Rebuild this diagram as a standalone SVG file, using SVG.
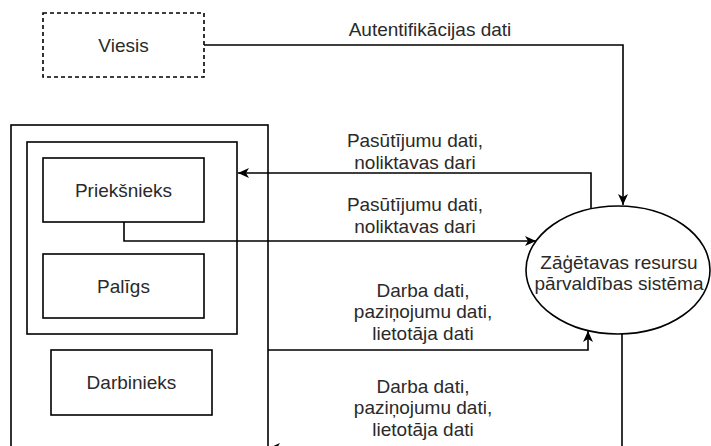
<svg xmlns="http://www.w3.org/2000/svg" width="711" height="446" viewBox="0 0 711 446">
  <defs>
    <marker id="arr" markerWidth="12" markerHeight="10" refX="11" refY="5" orient="auto" markerUnits="userSpaceOnUse">
      <path d="M0,0 L11,5 L0,10 L3,5 z" fill="#000"/>
    </marker>
    <style>
      .box { fill: #fff; stroke: #000; stroke-width: 1.6; }
      .dash { fill: #fff; stroke: #000; stroke-width: 1.6; stroke-dasharray: 4 3; }
      .edge { fill: none; stroke: #000; stroke-width: 1.6; marker-end: url(#arr); }
      text { font-family: "Liberation Sans", Arial, sans-serif; font-size: 19px; fill: #2a2a2a; text-anchor: middle; }
    </style>
  </defs>
  <rect width="711" height="446" fill="#fff"/>

  <g id="outer">
    <rect class="box" x="11" y="125" width="257" height="340"/>
  </g>
  <g id="inner">
    <rect class="box" x="27" y="142" width="210" height="192"/>
  </g>
  <g id="viesis">
    <rect class="dash" x="43" y="13" width="161" height="64"/>
    <text x="123.5" y="52">Viesis</text>
  </g>
  <g id="prieksnieks">
    <rect class="box" x="43" y="158" width="161" height="64"/>
    <text x="123.5" y="197">Priekšnieks</text>
  </g>
  <g id="paligs">
    <rect class="box" x="43" y="254" width="161" height="64"/>
    <text x="123.5" y="293">Palīgs</text>
  </g>
  <g id="darbinieks">
    <rect class="box" x="51" y="350" width="161" height="65"/>
    <text x="131.5" y="389">Darbinieks</text>
  </g>
  <g id="sistema">
    <ellipse class="box" cx="618" cy="270" rx="92" ry="64"/>
    <text x="619" y="268.5">Zāģētavas resursu</text>
    <text x="619" y="289.5">pārvaldības sistēma</text>
  </g>

  <g id="connectors">
    <path class="edge" d="M204,45 L623,45 L623,205"/>
    <path class="edge" d="M591,209 L591,173 L238,173"/>
    <path class="edge" d="M124,222 L124,241 L536,241"/>
    <path class="edge" d="M268,350 L588,350 L588,331"/>
    <path class="edge" d="M622,334 L622,448 L269,448"/>
  </g>

  <g id="labels">
    <text x="430" y="36">Autentifikācijas dati</text>
    <text x="415" y="146.5">Pasūtījumu dati,</text>
    <text x="415" y="168.5">noliktavas dari</text>
    <text x="415" y="210.5">Pasūtījumu dati,</text>
    <text x="415" y="232.5">noliktavas dari</text>
    <text x="423" y="296.5">Darba dati,</text>
    <text x="423" y="318">paziņojumu dati,</text>
    <text x="423" y="339.5">lietotāja dati</text>
    <text x="423" y="392.5">Darba dati,</text>
    <text x="423" y="414">paziņojumu dati,</text>
    <text x="423" y="435.5">lietotāja dati</text>
  </g>
</svg>
